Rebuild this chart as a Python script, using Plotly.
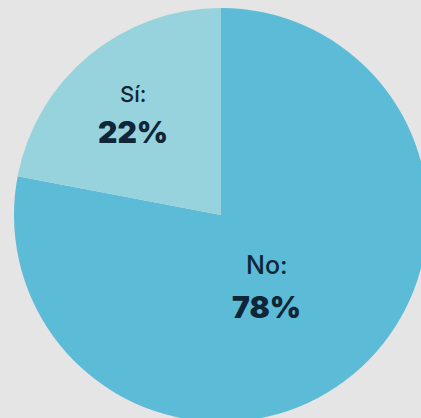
import math
import plotly.graph_objects as go

labels = ["No", "Sí"]
values = [78, 22]
colors = ["#5cbbd6", "#97d3dc"]

# figure geometry (pixels)
W, H = 442, 430
CX, CY, R = 221, 215, 207
label_frac = {"No": 0.40, "Sí": 0.65}
label_size = {"No": 25, "Sí": 22}
line_gap = {"No": 21, "Sí": 19}
label_nudge = {"No": (-7, -7), "Sí": (-2, -2)}

fig = go.Figure(go.Pie(
    labels=labels,
    values=values,
    marker=dict(colors=colors, line=dict(width=0)),
    sort=False,
    direction="clockwise",
    rotation=0,
    textinfo="none",
    hoverinfo="skip",
    showlegend=False,
    domain=dict(x=[(CX - R) / W, (CX + R) / W],
                y=[1 - (CY + R) / H, 1 - (CY - R) / H]),
))

total = sum(values)
cum = 0
for lab, v in zip(labels, values):
    mid = (cum + v / 2) / total * 2 * math.pi  # clockwise from top
    cum += v
    d = label_frac[lab] * R
    px = CX + d * math.sin(mid)
    py = CY - d * math.cos(mid)
    xp, yp = px / W, 1 - py / H
    nx, ny = label_nudge[lab]
    pct = f"{round(v / total * 100)}%"
    fig.add_annotation(x=xp, y=yp, xref="paper", yref="paper", text=f"{lab}:",
                       xanchor="center", yanchor="middle",
                       showarrow=False, xshift=nx, yshift=line_gap[lab] + ny,
                       font=dict(family="Inter", size=label_size[lab], weight=500, color="#0f2638"))
    fig.add_annotation(x=xp, y=yp, xref="paper", yref="paper", text=pct,
                       xanchor="center", yanchor="middle",
                       showarrow=False, xshift=nx, yshift=-line_gap[lab] + ny,
                       font=dict(family="Inter", size=30, weight=900, color="#0f2638"))

fig.update_layout(
    width=W, height=H,
    margin=dict(l=0, r=0, t=0, b=0),
    paper_bgcolor="#e5e5e5",
    plot_bgcolor="#e5e5e5",
)

fig.write_html(
    "out.html",
    config={"displayModeBar": False},
    post_script="document.body.style.margin='0';document.body.style.background='#e5e5e5';"
                "document.body.style.overflow='hidden';document.documentElement.style.overflow='hidden';",
)
